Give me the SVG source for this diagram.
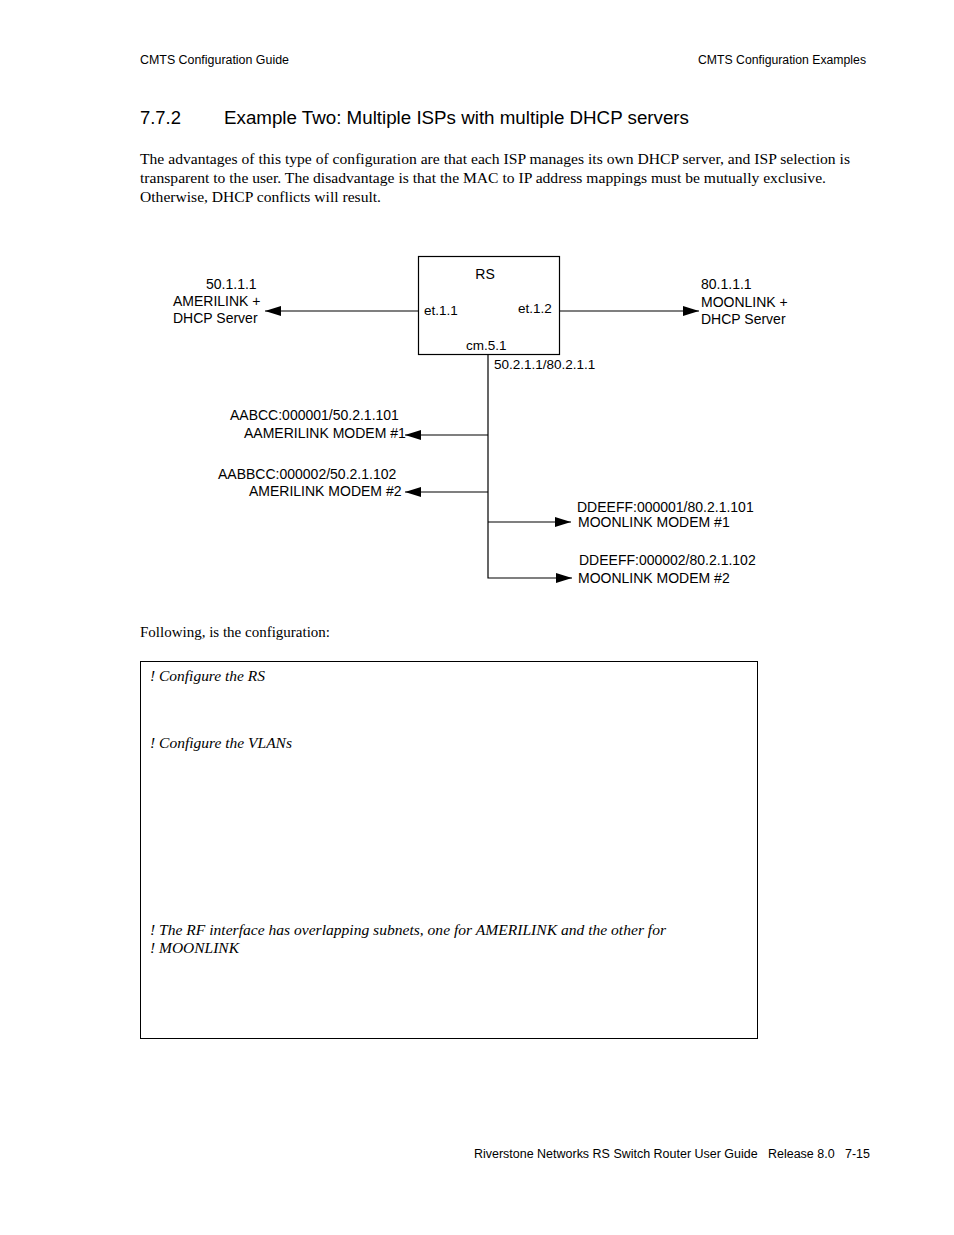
<svg xmlns="http://www.w3.org/2000/svg" width="954" height="1235" viewBox="0 0 954 1235">
<style>
.sans{font-family:"Liberation Sans",Arial,sans-serif;fill:#000}
.d{font-size:14px}
.serif{font-family:"Liberation Serif","Times New Roman",serif;fill:#000;font-size:15px}
.it{font-style:italic}
.ln{stroke:#000;stroke-width:1.2;fill:none}
</style>
<defs>
<marker id="ah" viewBox="0 0 16 10" refX="16" refY="5" markerWidth="16" markerHeight="10" markerUnits="userSpaceOnUse" orient="auto">
<path d="M0,0 L16,5 L0,10 Z" fill="#000"/>
</marker>
</defs>
<rect width="954" height="1235" fill="#fff"/>
<text class="sans" x="140" y="64" font-size="12" textLength="149" lengthAdjust="spacingAndGlyphs">CMTS Configuration Guide</text>
<text class="sans" x="698" y="64" font-size="12" textLength="168" lengthAdjust="spacingAndGlyphs">CMTS Configuration Examples</text>
<text class="sans" x="140" y="124" font-size="17.5" textLength="41" lengthAdjust="spacingAndGlyphs">7.7.2</text>
<text class="sans" x="224" y="124" font-size="17.5" textLength="465" lengthAdjust="spacingAndGlyphs">Example Two: Multiple ISPs with multiple DHCP servers</text>
<text class="serif" x="140" y="164" textLength="710" lengthAdjust="spacingAndGlyphs">The advantages of this type of configuration are that each ISP manages its own DHCP server, and ISP selection is</text>
<text class="serif" x="140" y="183" textLength="686" lengthAdjust="spacingAndGlyphs">transparent to the user. The disadvantage is that the MAC to IP address mappings must be mutually exclusive.</text>
<text class="serif" x="140" y="202" textLength="241" lengthAdjust="spacingAndGlyphs">Otherwise, DHCP conflicts will result.</text>

<g id="connectors">
<line class="ln" x1="418" y1="311" x2="265" y2="311" marker-end="url(#ah)"/>
<line class="ln" x1="559" y1="311" x2="699" y2="311" marker-end="url(#ah)"/>
<polyline class="ln" points="488,354 488,578 572,578" marker-end="url(#ah)"/>
<line class="ln" x1="488" y1="435" x2="405" y2="435" marker-end="url(#ah)"/>
<line class="ln" x1="488" y1="492" x2="405" y2="492" marker-end="url(#ah)"/>
<line class="ln" x1="488" y1="522" x2="571" y2="522" marker-end="url(#ah)"/>
<text class="sans" x="494" y="369" font-size="13.5">50.2.1.1/80.2.1.1</text>
</g>

<g id="rs">
<rect x="418.5" y="256.5" width="141" height="98" fill="#fff" stroke="#000" stroke-width="1.2"/>
<text class="sans d" x="485" y="279" text-anchor="middle">RS</text>
<text class="sans" x="424" y="315" font-size="13.5">et.1.1</text>
<text class="sans" x="518" y="313" font-size="13.5">et.1.2</text>
<text class="sans" x="466" y="350" font-size="13.5">cm.5.1</text>
</g>

<g id="amerilink-server">
<text class="sans d" x="206" y="289">50.1.1.1</text>
<text class="sans d" x="173" y="306">AMERILINK +</text>
<text class="sans d" x="173" y="323">DHCP Server</text>
</g>

<g id="moonlink-server">
<text class="sans d" x="701" y="289">80.1.1.1</text>
<text class="sans d" x="701" y="307">MOONLINK +</text>
<text class="sans d" x="701" y="324">DHCP Server</text>
</g>

<g id="amerilink-modem-1">
<text class="sans d" x="230" y="420">AABCC:000001/50.2.1.101</text>
<text class="sans d" x="244" y="438">AAMERILINK MODEM #1</text>
</g>

<g id="amerilink-modem-2">
<text class="sans d" x="218" y="479">AABBCC:000002/50.2.1.102</text>
<text class="sans d" x="249" y="496">AMERILINK MODEM #2</text>
</g>

<g id="moonlink-modem-1">
<text class="sans d" x="577" y="512">DDEEFF:000001/80.2.1.101</text>
<text class="sans d" x="578" y="527">MOONLINK MODEM #1</text>
</g>

<g id="moonlink-modem-2">
<text class="sans d" x="579" y="565">DDEEFF:000002/80.2.1.102</text>
<text class="sans d" x="578" y="583">MOONLINK MODEM #2</text>
</g>

<text class="serif" x="140" y="637">Following, is the configuration:</text>

<g id="config">
<rect x="140.5" y="661.5" width="617" height="377" fill="none" stroke="#000" stroke-width="1"/>
<text class="serif it" x="150" y="681" textLength="115" lengthAdjust="spacingAndGlyphs">! Configure the RS</text>
<text class="serif it" x="150" y="748" textLength="142" lengthAdjust="spacingAndGlyphs">! Configure the VLANs</text>
<text class="serif it" x="150" y="935" textLength="516" lengthAdjust="spacingAndGlyphs">! The RF interface has overlapping subnets, one for AMERILINK and the other for</text>
<text class="serif it" x="150" y="953" textLength="89" lengthAdjust="spacingAndGlyphs">! MOONLINK</text>
</g>

<text class="sans" x="474" y="1158" font-size="12.5" textLength="396" lengthAdjust="spacingAndGlyphs" xml:space="preserve">Riverstone Networks RS Switch Router User Guide   Release 8.0   7-15</text>
</svg>
